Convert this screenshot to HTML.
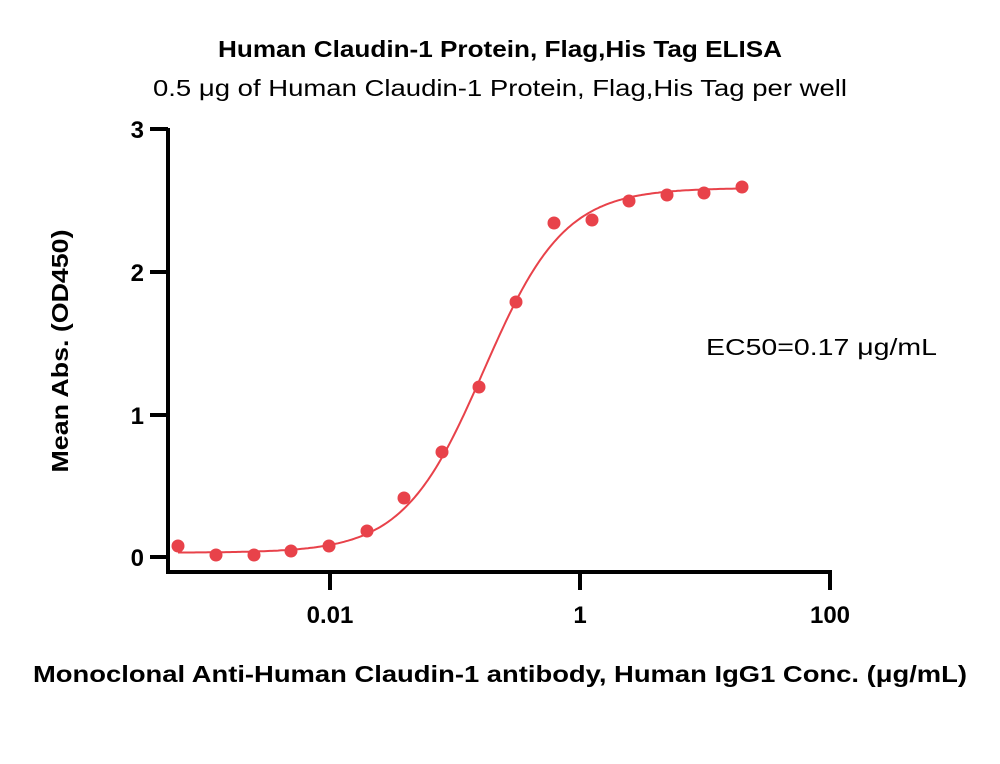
<!DOCTYPE html>
<html><head><meta charset="utf-8"><style>
body{margin:0;background:#fff;}
svg text{font-family:"Liberation Sans",sans-serif;}
</style></head><body>
<svg width="1000" height="759" viewBox="0 0 1000 759" xmlns="http://www.w3.org/2000/svg">
<text x="500" y="57" text-anchor="middle" font-size="23" font-weight="bold" textLength="564" lengthAdjust="spacingAndGlyphs">Human Claudin-1 Protein, Flag,His Tag ELISA</text>
<text x="500" y="96" text-anchor="middle" font-size="23" textLength="694" lengthAdjust="spacingAndGlyphs">0.5 μg of Human Claudin-1 Protein, Flag,His Tag per well</text>
<g stroke="#000" stroke-width="4" fill="none">
<path d="M168 128 V572 H832"/>
<path d="M150 129 H168 M150 272 H168 M150 415 H168 M150 557 H168"/>
<path d="M330 572 V590 M580 572 V590 M830 572 V590"/>
</g>
<g font-size="24" font-weight="bold" text-anchor="end">
<text x="144" y="138">3</text><text x="144" y="281">2</text><text x="144" y="424">1</text><text x="144" y="566">0</text>
</g>
<g font-size="24" font-weight="bold" text-anchor="middle">
<text x="330" y="623">0.01</text><text x="580" y="623">1</text><text x="830" y="623">100</text>
</g>
<text transform="translate(68 351) rotate(-90)" text-anchor="middle" font-size="23" font-weight="bold" textLength="243" lengthAdjust="spacingAndGlyphs">Mean Abs. (OD450)</text>
<text x="500" y="682" text-anchor="middle" font-size="23" font-weight="bold" textLength="934" lengthAdjust="spacingAndGlyphs">Monoclonal Anti-Human Claudin-1 antibody, Human IgG1 Conc. (μg/mL)</text>
<text x="706" y="355" font-size="23" textLength="231" lengthAdjust="spacingAndGlyphs">EC50=0.17 μg/mL</text>
<path id="c" fill="none" stroke="#e8424a" stroke-width="2"/>
<g id="p" fill="#e8424a"></g>
</svg>
<script>
var d="";for(var x=178;x<=742;x+=2){var L=(x-580)/125;var v=0.03+(2.59-0.03)/(1+Math.pow(10,1.35*(Math.log10(0.17)-L)));d+=(x==178?"M":"L")+x+" "+(557-142.5*v).toFixed(1);}
document.getElementById("c").setAttribute("d",d);
var xs=[178,216,254,291,329,367,404,442,479,516,554,592,629,667,704,742],ys=[546,555,555,551,546,531,498,452,387,302,223,220,201,195,193,187],g=document.getElementById("p"),s="";
for(var i=0;i<16;i++)s+='<circle cx="'+xs[i]+'" cy="'+ys[i]+'" r="6.5"/>';g.innerHTML=s;
</script>
</body></html>
